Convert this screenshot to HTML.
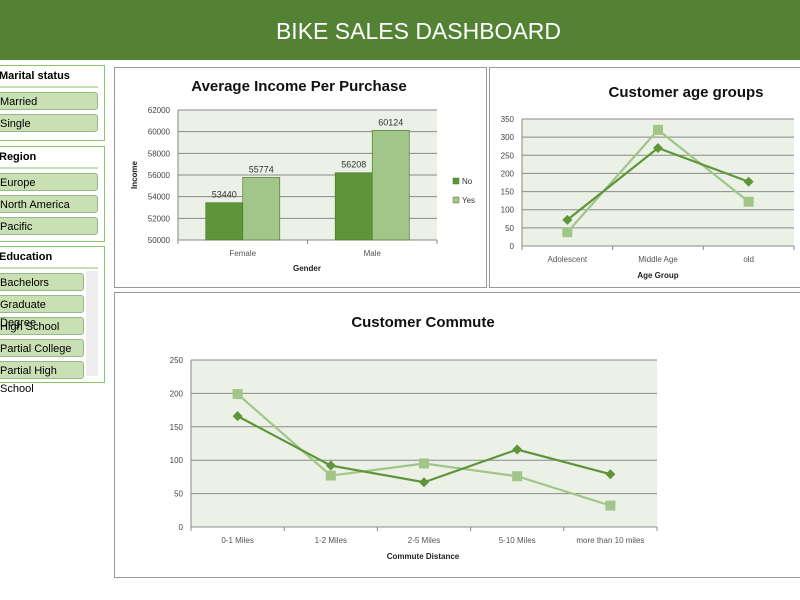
<!DOCTYPE html>
<html><head><meta charset="utf-8"><style>
body{margin:0;width:800px;height:600px;overflow:hidden;background:#fff;font-family:"Liberation Sans",sans-serif;position:relative}
.hdr{position:absolute;left:0;top:0;width:800px;height:60px;background:#548235;color:#fff;font-size:23px;text-align:center;line-height:62px;padding-left:37px;box-sizing:border-box}
.slicer{position:absolute;left:-10px;width:115px;border:1px solid #8cc46a;background:#fff;box-sizing:border-box}
.slicer .t{font-weight:bold;font-size:11px;height:20px;line-height:20px;padding-left:8px;border-bottom:2px solid #c6dfb3;margin:0 6px 4px 0}
.slicer .b{height:18px;margin:0 6px 4px 0;background:#c9e0b4;border:1px solid #9ab88a;border-radius:3px;font-size:11px;line-height:18px;padding-left:8px;box-sizing:border-box}
.panel{position:absolute;border:1px solid #999;box-sizing:border-box;background:#fff}
svg text{font-family:"Liberation Sans",sans-serif}
</style></head><body>
<div class="hdr">BIKE SALES DASHBOARD</div>
<div class="slicer" style="top:65px;height:76px">
<div class="t">Marital status</div>
<div class="b">Married</div>
<div class="b">Single</div></div>
<div class="slicer" style="top:146px;height:96px">
<div class="t">Region</div>
<div class="b">Europe</div>
<div class="b">North America</div>
<div class="b">Pacific</div></div>
<div class="slicer" style="top:246px;height:137px">
<div class="t">Education</div>
<div class="b" style="margin-right:20px">Bachelors</div>
<div class="b" style="margin-right:20px">Graduate Degree</div>
<div class="b" style="margin-right:20px">High School</div>
<div class="b" style="margin-right:20px">Partial College</div>
<div class="b" style="margin-right:20px">Partial High School</div>
<div style="position:absolute;right:6px;top:24px;width:12px;height:105px;background:#eee"></div></div>

<div class="panel" style="left:114px;top:67px;width:373px;height:221px"></div>
<div class="panel" style="left:489px;top:67px;width:320px;height:221px"></div>
<div class="panel" style="left:114px;top:292px;width:695px;height:286px"></div>
<svg id="s" width="800" height="600" style="position:absolute;left:0;top:0"></svg>
<script>
const incCats=["Female","Male"];
const incNo=[53440,56208];
const incYes=[55774,60124];
const incTicks=[50000,52000,54000,56000,58000,60000,62000];
const ageCats=["Adolescent","Middle Age","old"];
const ageDark=[72,270,177];
const ageLight=[38,320,122];
const ageTicks=[0,50,100,150,200,250,300,350];
const comCats=["0-1 Miles","1-2 Miles","2-5 Miles","5-10 Miles","more than 10 miles"];
const comDark=[166,92,67,116,79];
const comLight=[199,77,95,76,32];
const comTicks=[0,50,100,150,200,250];
const DARK="#5e953a",LIGHT="#a2c58a";
const s=document.getElementById('s');
function el(t,a,txt){const e=document.createElementNS("http://www.w3.org/2000/svg",t);for(const k in a)e.setAttribute(k,a[k]);if(txt!=null)e.textContent=txt;s.appendChild(e);return e;}
function frame(x0,x1,y0,y1,ticks,ymin,ymax,cats,name){
  const Y=v=>y1-(v-ymin)/(ymax-ymin)*(y1-y0);
  const r=el('rect',{x:x0,y:y0,width:x1-x0,height:y1-y0,fill:"#ebf1e6"});
  
  ticks.forEach(t=>{const g=el('line',{x1:x0,x2:x1,y1:Y(t),y2:Y(t),stroke:"#8a8a8a","stroke-width":1});
    
    const l=el('text',{x:x0-8,y:Y(t)+3,"text-anchor":"end","font-size":8,fill:"#444"},t);
    });
  el('line',{x1:x0,x2:x0,y1:y0,y2:y1+3,stroke:"#888"});
  const bw=(x1-x0)/cats.length;
  for(let i=0;i<=cats.length;i++)el('line',{x1:x0+i*bw,x2:x0+i*bw,y1:y1,y2:y1+4,stroke:"#888"});
  cats.forEach((c,i)=>{const l=el('text',{x:x0+bw*(i+.5),y:y1+16,"text-anchor":"middle","font-size":8,fill:"#555"},c);
    });
  return {Y,X:i=>x0+bw*(i+.5),bw};
}
function title(x,y,t,fs,n){const e=el('text',{x,y,"text-anchor":"middle","font-size":fs,"font-weight":"bold",fill:"#111"},t);}
function axt(x,y,t,n,rot){const a={x,y,"text-anchor":"middle","font-size":8,"font-weight":"bold",fill:"#222"};if(rot)a.transform=`rotate(-90 ${x} ${y})`;const e=el('text',a,t);}
// income chart
title(299,91,"Average Income Per Purchase",15,'income-chart-title');
let f=frame(178,437,110,240,incTicks,50000,62000,incCats,'income');
incCats.forEach((c,i)=>{
  [[incNo,DARK,-37],[incYes,LIGHT,0]].forEach(([arr,col,off])=>{
    const y=f.Y(arr[i]);const b=el('rect',{x:f.X(i)+off,y,width:37,height:240-y,fill:col,stroke:"#4d7d2e","stroke-width":.7});
    
    const l=el('text',{x:f.X(i)+off+18.5,y:y-5,"text-anchor":"middle","font-size":9,fill:"#333"},arr[i]);
    
  });
});
axt(307,271,"Gender",'x-axis-title');axt(137,175,"Income",'y-axis-title',true);
[["No",DARK,183],["Yes",LIGHT,202]].forEach(([t,c,y])=>{const r=el('rect',{x:453,y:y-5,width:6,height:6,fill:c,stroke:"#4d7d2e","stroke-width":.5});
 
 const l=el('text',{x:462,y:y+1,"font-size":8,fill:"#333"},t);});
// line helper
function series(f,arr,col,shape,name){
  const pts=arr.map((v,i)=>[f.X(i),f.Y(v)]);
  const p=el('polyline',{points:pts.map(p=>p.join(',')).join(' '),fill:"none",stroke:col,"stroke-width":2.2});
  
  pts.forEach(([x,y])=>{let m;
    if(shape==='sq')m=el('rect',{x:x-5,y:y-5,width:10,height:10,fill:col});
    else m=el('polygon',{points:`${x},${y-5} ${x+5},${y} ${x},${y+5} ${x-5},${y}`,fill:col});
    });
}
// age chart
title(686,97,"Customer age groups",15,'age-chart-title');
f=frame(522,794,119,246,ageTicks,0,350,ageCats,'age');
series(f,ageLight,LIGHT,'sq','age-light');series(f,ageDark,DARK,'dia','age-dark');
axt(658,278,"Age  Group",'x-axis-title');
// commute chart
title(423,327,"Customer Commute",15,'commute-chart-title');
f=frame(191,657,360,527,comTicks,0,250,comCats,'commute');
series(f,comLight,LIGHT,'sq','commute-light');series(f,comDark,DARK,'dia','commute-dark');
axt(423,559,"Commute  Distance",'x-axis-title');
</script>
</body></html>
